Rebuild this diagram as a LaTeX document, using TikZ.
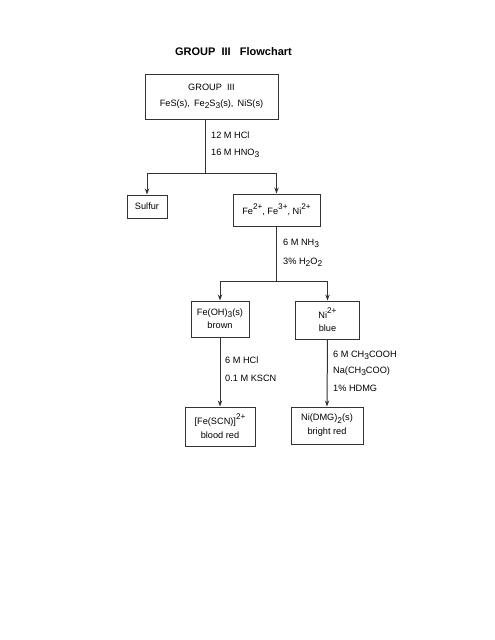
\documentclass[tikz,border=0pt]{standalone}
\usepackage{fontspec}
\setmainfont{Liberation Sans}
\usetikzlibrary{arrows.meta}
\definecolor{linec}{HTML}{333333}
\newcommand\sps[1]{\raisebox{1.05ex}{\fontsize{8.2}{9}\selectfont #1}}
\newcommand\sbs[1]{\raisebox{-0.45ex}{\fontsize{8.4}{9}\selectfont #1}}
\begin{document}
\begin{tikzpicture}[x=1pt,y=-1pt,
  txt/.style={font=\fontsize{9.2}{10}\selectfont},
  box/.style={txt, draw=linec, line width=1pt, inner sep=0pt, align=center},
  lab/.style={txt, anchor=west, inner sep=0pt},
  conn/.style={draw=linec, line width=1pt},
  arr/.style={-{Stealth[length=6pt,width=4.4pt]}}]
\useasboundingbox (0,0) rectangle (495,640);
\node[font=\bfseries\fontsize{11}{13}\selectfont] (title) at (233.5,52) {GROUP\ \ III\ \ \ Flowchart};
\node[box, minimum width=133pt, minimum height=45pt] (top) at (211.5,96.5)
  {GROUP\ \ III\\[6pt]FeS(s),\ \,Fe\sbs{2}S\sbs{3}(s),\ \,NiS(s)};
\node[box, minimum width=40pt, minimum height=23pt] (sulfur) at (147,206.5) {Sulfur};
\node[box, minimum width=87pt, minimum height=32pt] (fe) at (276.5,210)
  {Fe\sps{2+}, Fe\sps{3+}, Ni\sps{2+}};
\node[box, minimum width=58pt, minimum height=36pt] (feoh) at (220,319)
  {Fe(OH)\sbs{3}(s)\\[3pt]brown};
\node[box, minimum width=64pt, minimum height=38pt] (ni) at (327.5,320)
  {Ni\sps{2+}\\[3pt]blue};
\node[box, minimum width=70pt, minimum height=39pt] (fescn) at (220,426.5)
  {[Fe(SCN)]\sps{2+}\\[4pt]blood red};
\node[box, minimum width=72pt, minimum height=37pt] (nidmg) at (327,425.5)
  {Ni(DMG)\sbs{2}(s)\\[4pt]bright red};

\coordinate (j1) at (205,173);
\coordinate (j2) at (276.5,281);
\draw[conn] (top.south -| j1) -- (j1);
\draw[conn, arr] (j1) -| (sulfur.north);
\draw[conn, arr] (j1) -| (fe.north);
\draw[conn] (fe.south) -- (j2);
\draw[conn, arr] (j2) -| (feoh.north);
\draw[conn, arr] (j2) -| (ni.north);
\draw[conn, arr] (feoh.south) -- (fescn.north);
\draw[conn, arr] (ni.south) -- (nidmg.north);

\node[lab] (l1) at (211,135) {12 M HCl};
\node[lab] (l2) at (211,153) {16 M HNO\sbs{3}};
\node[lab] (l3) at (283,243) {6 M NH\sbs{3}};
\node[lab] (l4) at (283,262) {3\% H\sbs{2}O\sbs{2}};
\node[lab] (l5) at (225,360) {6 M HCl};
\node[lab] (l6) at (225,378) {0.1 M KSCN};
\node[lab] (l7) at (333,355) {6 M CH\sbs{3}COOH};
\node[lab] (l8) at (333,371) {Na(CH\sbs{3}COO)};
\node[lab] (l9) at (333,388) {1\% HDMG};
\end{tikzpicture}
\end{document}
